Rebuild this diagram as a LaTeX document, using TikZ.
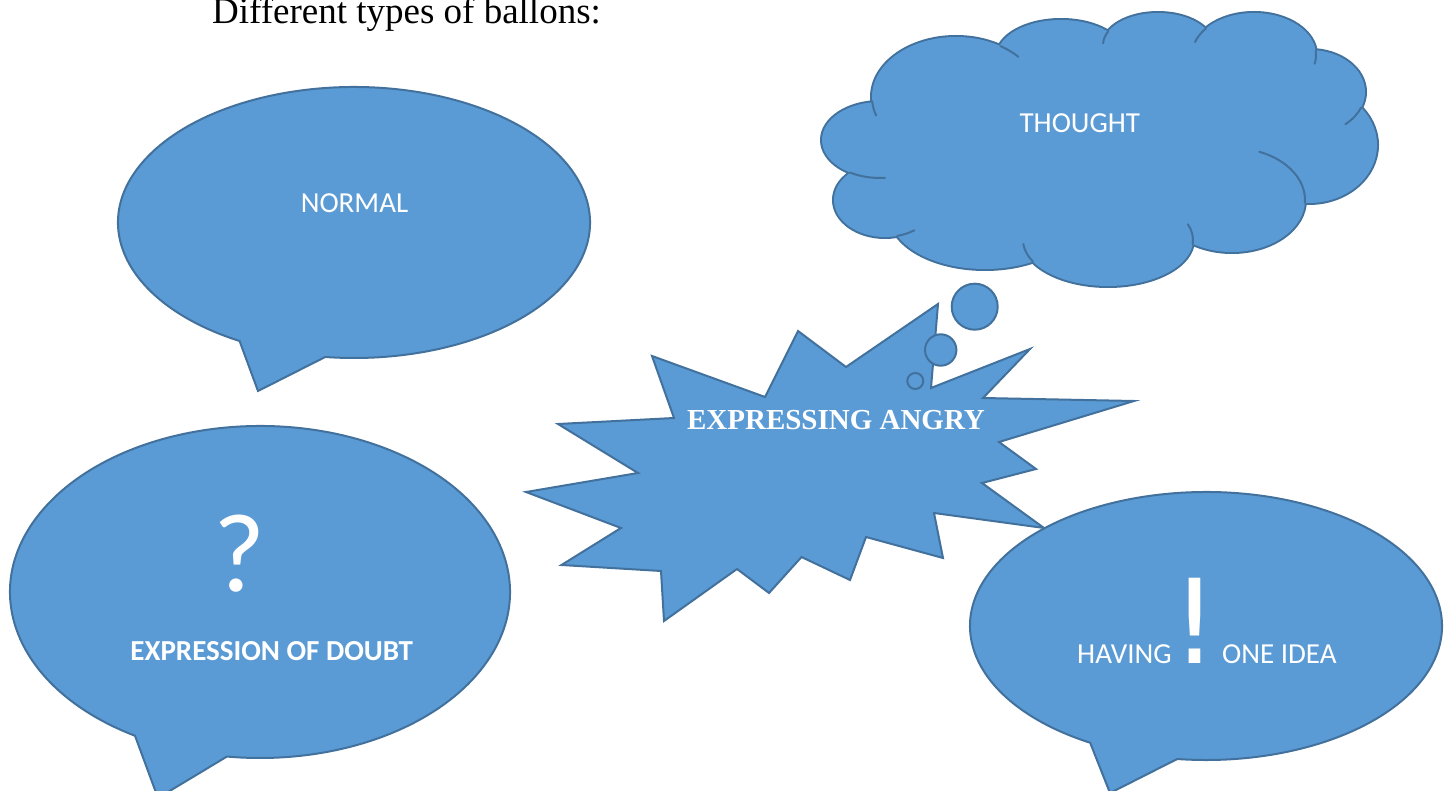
\documentclass[tikz,border=0pt]{standalone}
\usepackage{fontspec}
\setmainfont{Liberation Serif}
\newfontfamily\calibri{Carlito}
\newfontfamily\dejavu{DejaVu Sans}
\definecolor{bfill}{HTML}{5B9BD5}
\definecolor{bline}{HTML}{41719C}
\begin{document}
\begin{tikzpicture}[x=1pt,y=-1pt,
  balloon/.style={fill=bfill, draw=bline, line width=2pt, line join=miter},
  lobeline/.style={draw=bline, line width=4pt},
  lobefill/.style={fill=bfill},
  crease/.style={draw=bline, line width=2pt, line cap=round},
  lbl/.style={text=white, inner sep=0pt, font=\calibri\fontsize{29}{29}\selectfont},
]
\useasboundingbox (0,0) rectangle (1446,791);
\fill[white] (0,0) rectangle (1446,791);

% title
\node[anchor=base west, inner sep=0pt, font=\fontsize{37}{37}\selectfont] (title) at (212,24) {Different types of ballons:};

% NORMAL balloon
\draw[balloon] (354,222.5) ++(119:236 and 135.5) arc[start angle=119, end angle=457, x radius=236, y radius=135.5] -- (258,391) -- cycle;
\node[lbl, anchor=base] (normal) at (354.5,213) {NORMAL};

% doubt balloon
\draw[balloon] (260,592) ++(120:250 and 166) arc[start angle=120, end angle=457.6, x radius=250, y radius=166] -- (158,798) -- cycle;
\node[anchor=base, text=white, inner sep=0pt, font=\calibri\fontsize{112}{112}\selectfont] (qmark) at (239,591) {?};
\node[anchor=base, text=white, inner sep=0pt, font=\calibri\bfseries\fontsize{29}{29}\selectfont] (doubt) at (271.6,660) {EXPRESSION OF DOUBT};

% cloud
\def\lobes{880/140/58/38, 956/97/84/60, 1061/56/64/36, 1158/45/55/32, 1254/55/62/42, 1310/92/55/42, 1309/145/68/58, 1232/200/73/52, 1108/240/85/46, 985/215/95/54, 885/200/51/37}
\foreach \cx/\cy/\rx/\ry in \lobes {
  \draw[lobeline] (\cx,\cy) ellipse[x radius=\rx, y radius=\ry];
}
\foreach \cx/\cy/\rx/\ry in \lobes {
  \fill[lobefill] (\cx,\cy) ellipse[x radius=\rx, y radius=\ry];
}
\fill[lobefill] (956,97) -- (1061,56) -- (1158,45) -- (1254,55) -- (1310,92) -- (1309,145) -- (1232,200) -- (1108,240) -- (985,215) -- (885,200) -- (880,140) -- cycle;
% creases
\draw[crease] (880,140) ++(121:58 and 38) arc[start angle=121, end angle=85, x radius=58, y radius=38];
\draw[crease] (956,97) ++(176:84 and 60) arc[start angle=176, end angle=162, x radius=84, y radius=60];
\draw[crease] (956,97) ++(-58:84 and 60) arc[start angle=-58, end angle=-42, x radius=84, y radius=60];
\draw[crease] (1158,45) ++(205:55 and 32) arc[start angle=205, end angle=183, x radius=55, y radius=32];
\draw[crease] (1254,55) ++(219:62 and 42) arc[start angle=219, end angle=198, x radius=62, y radius=42];
\draw[crease] (1254,55) ++(-6:62 and 42) arc[start angle=-6, end angle=12, x radius=62, y radius=42];
\draw[crease] (1310,92) ++(22:55 and 42) arc[start angle=22, end angle=50, x radius=55, y radius=42];
\draw[crease] (1232,200) ++(3:73 and 52) arc[start angle=3, end angle=-68, x radius=73, y radius=52];
\draw[crease] (1108,240) ++(5:85 and 46) arc[start angle=5, end angle=-20, x radius=85, y radius=46];
\draw[crease] (1108,240) ++(152:85 and 46) arc[start angle=152, end angle=175, x radius=85, y radius=46];
\draw[crease] (885,200) ++(76:51 and 37) arc[start angle=76, end angle=55, x radius=51, y radius=37];
\node[lbl, anchor=base] (thought) at (1079.8,133) {THOUGHT};

% starburst
\draw[balloon] (652,356) -- (765,397) -- (798,331) -- (846,367) -- (938,304) -- (931,388) -- (1030,349) -- (983,398) -- (1134,401) -- (999,442) -- (1036,469) -- (982,483) -- (1044,528) -- (934,513) -- (943,558) -- (866,537) -- (850,580) -- (801.5,557) -- (769,593) -- (737,569) -- (664,621) -- (661,571) -- (561.5,565) -- (621,528) -- (526,492) -- (638,473) -- (558,424) -- (674,418) -- cycle;
\node[anchor=base, text=white, inner sep=0pt, font=\bfseries\fontsize{29}{29}\selectfont] (angry) at (836,430) {EXPRESSING ANGRY};

% thought bubbles
\draw[balloon] (974.7,306.7) circle[radius=23];
\draw[balloon] (940.7,350) circle[radius=15.7];
\draw[balloon] (915.3,381) circle[radius=8];

% HAVING ONE IDEA balloon
\draw[balloon] (1206,626) ++(119.4:236 and 134) arc[start angle=119.4, end angle=457, x radius=236, y radius=134] -- (1110,793) -- cycle;
\node[lbl, anchor=base west] (having) at (1077,663) {HAVING};
\node[anchor=base, text=white, inner sep=0pt, font=\dejavu\fontsize{117}{117}\selectfont] (excl) at (1195,663) {!};
\node[lbl, anchor=base west] (oneidea) at (1222,663) {ONE IDEA};
\end{tikzpicture}
\end{document}
